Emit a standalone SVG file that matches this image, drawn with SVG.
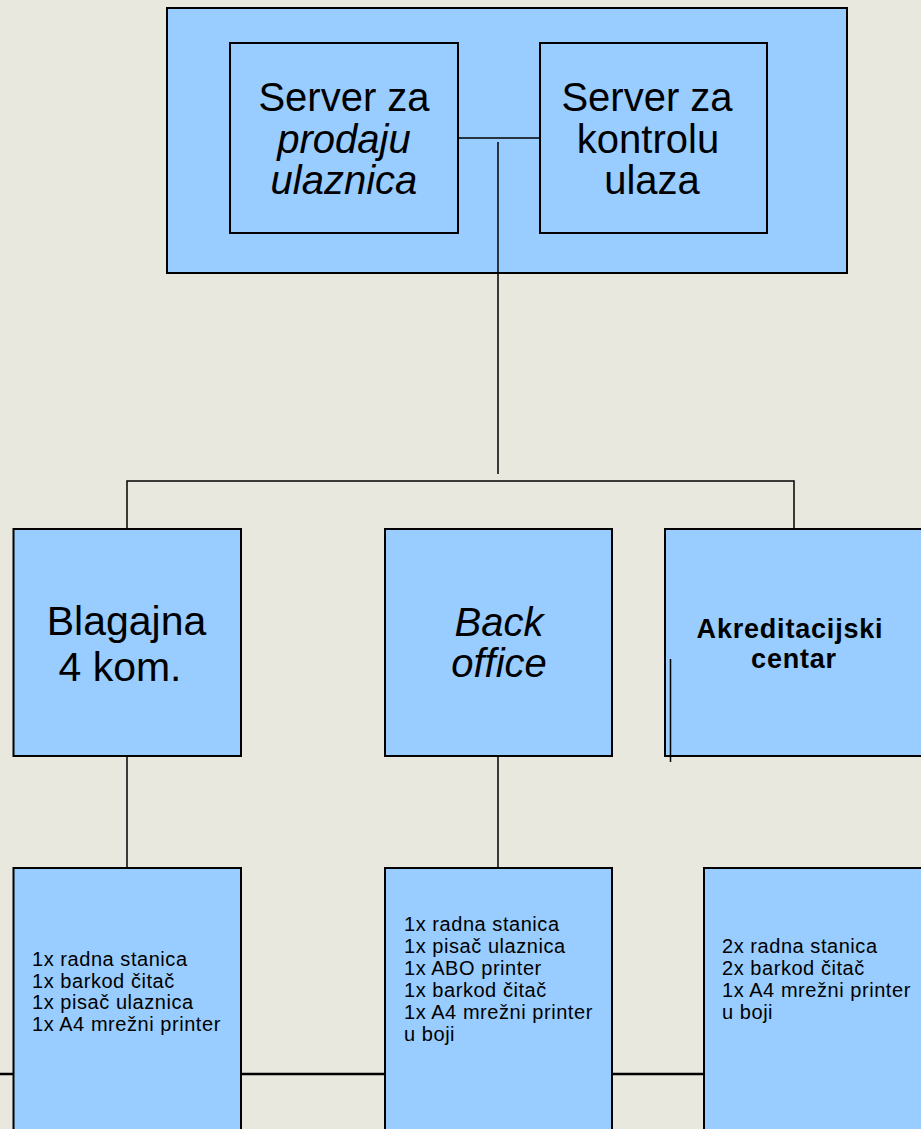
<svg xmlns="http://www.w3.org/2000/svg" width="921" height="1129" viewBox="0 0 921 1129">
<style>
.box{fill:#99CCFF;stroke:#000;stroke-width:2}
.ln{stroke:#000;stroke-width:1.5;fill:none}
.big{font-family:"Liberation Sans",Arial,sans-serif;font-size:40px;fill:#000;text-anchor:middle}
.it{font-style:italic}
.bold{font-family:"Liberation Sans",Arial,sans-serif;font-size:27px;font-weight:bold;letter-spacing:0.8px;fill:#000;text-anchor:middle}
.sm{font-family:"Liberation Sans",Arial,sans-serif;font-size:20px;letter-spacing:0.55px;fill:#000}
</style>
<rect width="921" height="1129" fill="#E9E8DE"/>
<g id="server-group">
<rect class="box" x="167" y="8" width="680" height="265"/>
</g>
<g id="connectors">
<line class="ln" x1="458" y1="138" x2="540" y2="138"/>
<line class="ln" x1="498" y1="142" x2="498" y2="474"/>
<polyline class="ln" points="127,529 127,481 794,481 794,529"/>
<line class="ln" x1="127" y1="756" x2="127" y2="868"/>
<line class="ln" x1="498" y1="756" x2="498" y2="868"/>
<line x1="0" y1="1074" x2="704" y2="1074" stroke="#000" stroke-width="2.5"/>
</g>
<g id="server-prodaja">
<rect class="box" x="230" y="43" width="228" height="190"/>
<text class="big" x="344" y="111">Server za</text>
<text class="big it" x="344" y="152.5">prodaju</text>
<text class="big it" x="344" y="194">ulaznica</text>
</g>
<g id="server-kontrola">
<rect class="box" x="540" y="43" width="227" height="190"/>
<text class="big" x="647" y="111">Server za</text>
<text class="big" x="648" y="152.5">kontrolu</text>
<text class="big" x="652" y="194">ulaza</text>
</g>
<g id="blagajna">
<rect class="box" x="13.5" y="529" width="227.5" height="227"/>
<text class="big" x="126.5" y="635" style="font-size:41px">Blagajna</text>
<text class="big" x="120" y="680.5" style="font-size:41px">4 kom.</text>
</g>
<g id="back-office">
<rect class="box" x="385" y="529" width="227" height="227"/>
<text class="big it" x="499" y="636">Back</text>
<text class="big it" x="499" y="677">office</text>
</g>
<g id="akreditacijski">
<rect class="box" x="665" y="529" width="270" height="227"/>
<text class="bold" x="790" y="638">Akreditacijski</text>
<text class="bold" x="794" y="668">centar</text>
<line class="ln" x1="670.5" y1="659" x2="670.5" y2="762"/>
</g>
<g id="blagajna-oprema">
<rect class="box" x="13.5" y="868" width="227.5" height="270"/>
<text class="sm"><tspan x="32" y="966">1x radna stanica</tspan><tspan x="32" y="987.7">1x barkod čitač</tspan><tspan x="32" y="1009.4">1x pisač ulaznica</tspan><tspan x="32" y="1031">1x A4 mrežni printer</tspan></text>
</g>
<g id="back-office-oprema">
<rect class="box" x="385" y="868" width="227" height="270"/>
<text class="sm"><tspan x="404" y="931">1x radna stanica</tspan><tspan x="404" y="953">1x pisač ulaznica</tspan><tspan x="404" y="975">1x ABO printer</tspan><tspan x="404" y="997">1x barkod čitač</tspan><tspan x="404" y="1019">1x A4 mrežni printer</tspan><tspan x="404" y="1041">u boji</tspan></text>
</g>
<g id="akreditacijski-oprema">
<rect class="box" x="704" y="868" width="230" height="270"/>
<text class="sm"><tspan x="722" y="953">2x radna stanica</tspan><tspan x="722" y="975">2x barkod čitač</tspan><tspan x="722" y="997">1x A4 mrežni printer</tspan><tspan x="722" y="1019">u boji</tspan></text>
</g>
</svg>
